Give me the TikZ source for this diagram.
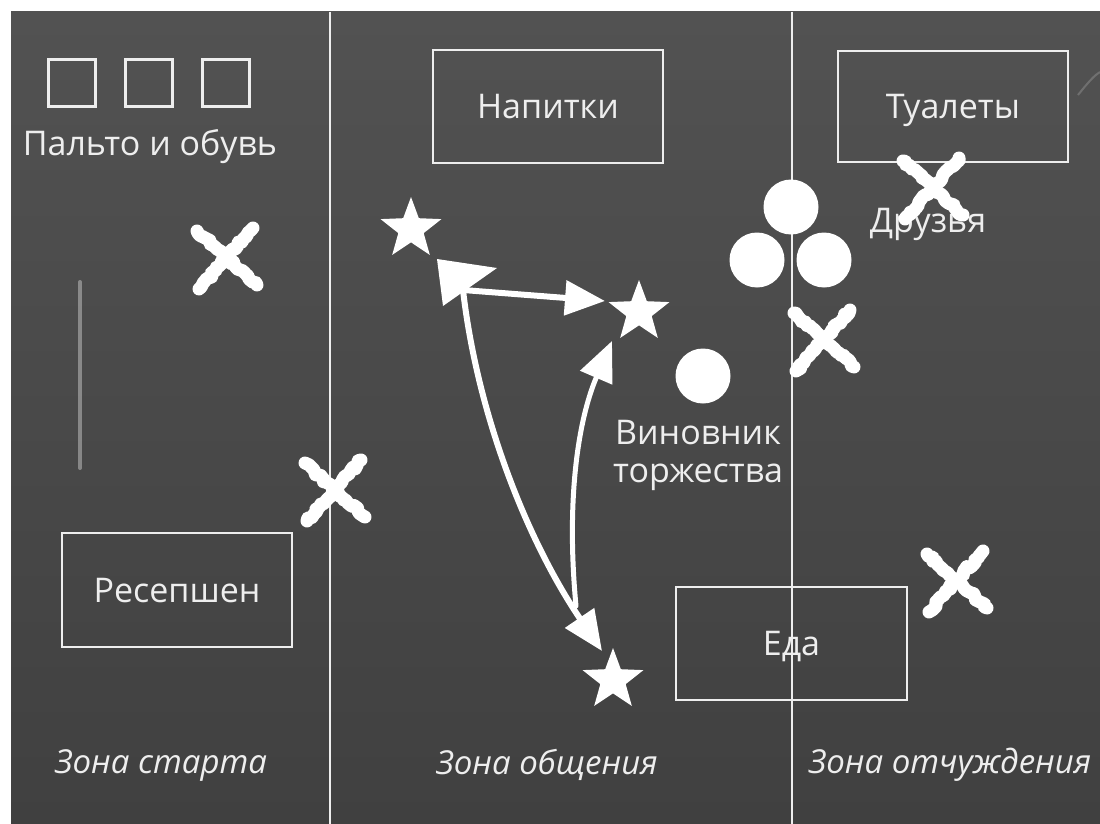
\documentclass[tikz,border=0pt]{standalone}
\usepackage{fontspec}
\setmainfont{Open Sans}
\usetikzlibrary{shapes.geometric,arrows.meta,decorations.pathmorphing}
\definecolor{boardtop}{RGB}{82,82,82}
\definecolor{boardbot}{RGB}{64,64,64}
\definecolor{chalk}{RGB}{238,238,238}
\begin{document}
\begin{tikzpicture}[x=1pt,y=-1pt,
  lbl/.style={text=chalk,font=\fontsize{34}{40}\selectfont,inner sep=0pt},
  zone/.style={text=chalk,font=\fontsize{33}{40}\selectfont\itshape,inner sep=0pt},
  box/.style={draw=chalk,line width=2.5pt,text=chalk,font=\fontsize{34}{40}\selectfont,
     inner sep=0pt,text depth=0pt},
  sq/.style={draw=chalk,line width=2.5pt,minimum size=47pt,inner sep=0pt},
  divider/.style={draw=chalk,line width=2.5pt},
  starnode/.style={star,star points=5,star point ratio=2.4,fill=white,minimum size=64pt,inner sep=0pt},
  person/.style={circle,fill=white,minimum size=55pt,inner sep=0pt},
  shaft/.style={draw=white,line width=6pt,line cap=round,
     arrows={-Triangle[length=40pt,width=34pt]}},
  chalkstroke/.style={draw=white,line width=13pt,line cap=round,line join=round,
     decorate,decoration={random steps,segment length=3pt,amplitude=1.8pt}},
  chalkx/.pic={
    \draw[chalkstroke] (-29,-27) -- (31,27);
    \draw[chalkstroke] (27,-30) -- (-27,31);
  }]
\useasboundingbox (0,0) rectangle (1100,824);
\fill[white] (0,0) rectangle (1100,824);
\shade[top color=boardtop,bottom color=boardbot] (11,12) rectangle (1100,824);
% faint chalk smudges
\draw[white,opacity=0.35,line width=4pt,line cap=round] (80,282) -- (80,468);
\draw[white,opacity=0.18,line width=2pt] (1078,95) .. controls (1090,80) and (1095,75) .. (1100,72);

% zone dividers
\coordinate (d1t) at (330,12);
\coordinate (d1b) at (330,824);
\coordinate (d2t) at (792,12);
\coordinate (d2b) at (792,824);
\draw[divider] (d1t) -- (d1b);
\draw[divider] (d2t) -- (d2b);

% coat squares
\node[sq] (c1) at (72,83) {};
\node[sq] (c2) at (149,83) {};
\node[sq] (c3) at (226,83) {};
\node[lbl] (coat) at (150,147) {Пальто и обувь};

% boxes
\node[box,minimum width=230pt,minimum height=113pt] (drinks) at (548,106.5) {Напитки};
\node[box,minimum width=230pt,minimum height=111pt] (wc) at (953,106.5) {Туалеты};
\node[box,minimum width=230pt,minimum height=114pt] (recep) at (177,590) {Ресепшен};
\node[box,minimum width=231pt,minimum height=113pt] (food) at (791.5,643.5) {Еда};

% people
\node[person] (f1) at (791,207) {};
\node[person] (f2) at (757,260) {};
\node[person] (f3) at (824,260) {};
\node[lbl] (friends) at (928,224) {Друзья};
\node[person] (hero) at (703,376) {};
\node[lbl,align=center] (herolbl) at (698,455) {Виновник\\[-2pt]торжества};

% stars
\node[starnode] (s1) at (411,229) {};
\node[starnode] (s2) at (639,312) {};
\node[starnode] (s3) at (613,680) {};

% chalk arrows
\coordinate (h1) at (437,259);
\coordinate (j) at (463,290);
\coordinate (r1) at (605,301);
\coordinate (b1) at (602,651);
\coordinate (k) at (576,606);
\coordinate (t2) at (612,341);
\fill[white] (h1) -- (497,268) -- (443,306) -- cycle;
\draw[shaft] (j) -- (r1);
\draw[shaft] (j) .. controls (478,420) and (530,545) .. (b1);
\draw[shaft,line width=5pt] (k) .. controls (566,500) and (578,420) .. (t2);

% crosses
\pic at (226,258) {chalkx};
\pic at (334,490) {chalkx};
\pic at (932,188) {chalkx};
\pic at (823,340) {chalkx};
\pic at (956,581) {chalkx};

% zone labels
\node[zone] (z1) at (161,765) {Зона старта};
\node[zone] (z2) at (547,765) {Зона общения};
\node[zone] (z3) at (950,765) {Зона отчуждения};
\end{tikzpicture}
\end{document}
